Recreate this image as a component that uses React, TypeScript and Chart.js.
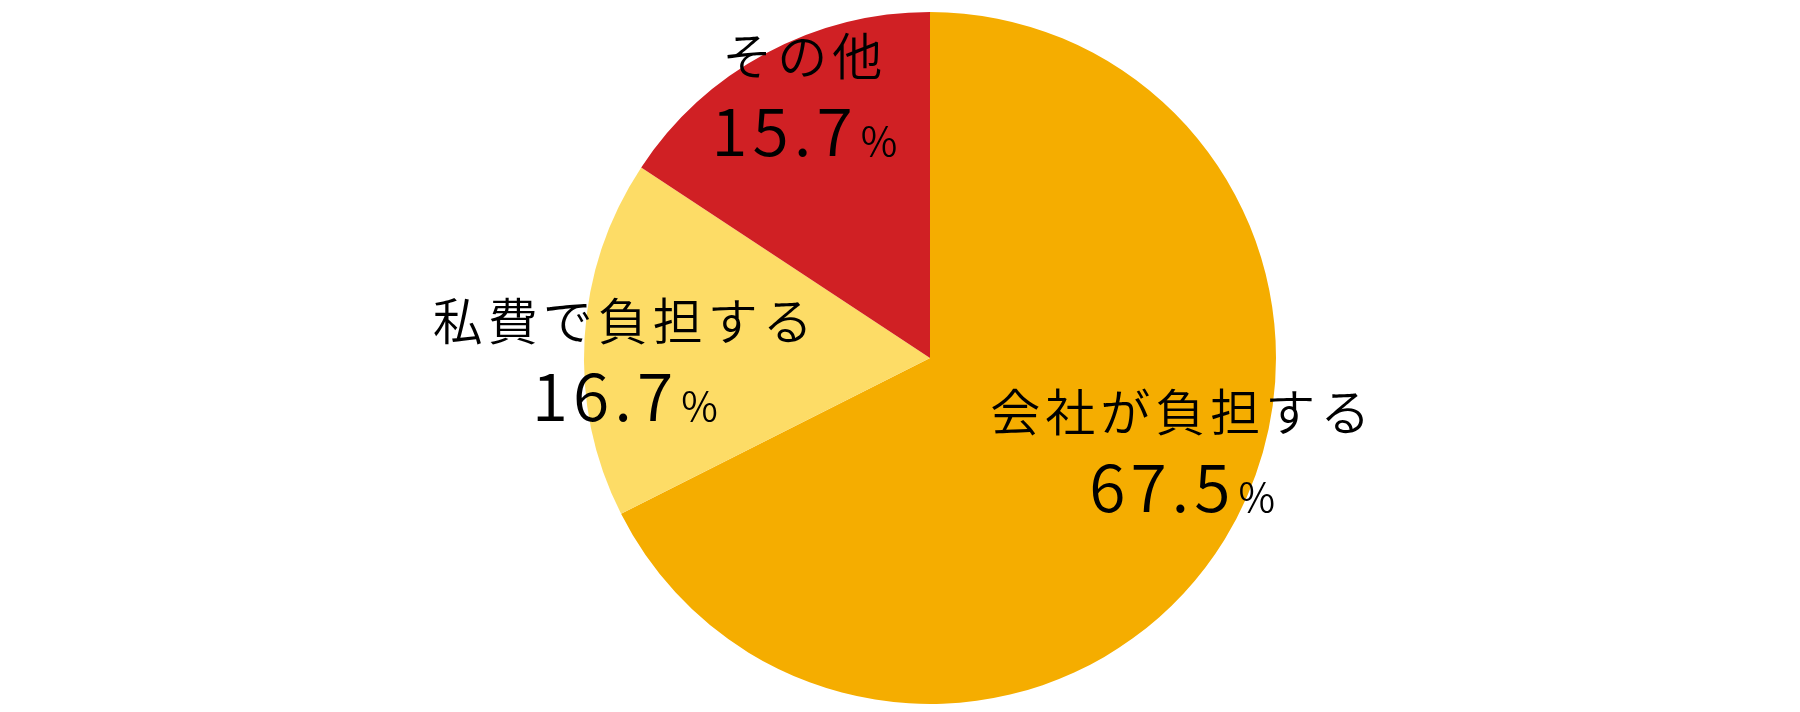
import React, { useEffect, useRef } from "react";
import { Chart, registerables } from "chart.js";

Chart.register(...registerables);

const categories = ["会社が負担する", "私費で負担する", "その他"];
const values = [67.5, 16.7, 15.7];
const valueLabels = ["67.5", "16.7", "15.7"];
const colors = ["#F5AD00", "#FDDC66", "#D02024"];
// label anchor (category text centre) relative to pie centre, in units of radius
const labelAnchors = [
  [0.723, 0.156],
  [-0.888, -0.107],
  [-0.369, -0.873],
];

const FONT = '"Noto Sans CJK JP", "Noto Sans", sans-serif';

function drawSpaced(ctx: CanvasRenderingContext2D, text: string, cx: number, y: number, spacing: number) {
  const chars = Array.from(text);
  const widths = chars.map((c) => ctx.measureText(c).width);
  const total = widths.reduce((a, b) => a + b, 0) + spacing * (chars.length - 1);
  let x = cx - total / 2;
  ctx.textAlign = "left";
  chars.forEach((c, i) => {
    ctx.fillText(c, x, y);
    x += widths[i] + spacing;
  });
}

const labelPlugin = {
  id: "pieLabels",
  afterDatasetsDraw(chart: any) {
    const ctx: CanvasRenderingContext2D = chart.ctx;
    const meta = chart.getDatasetMeta(0);
    const arc = meta.data[0];
    const { x, y, outerRadius } = arc.getProps(["x", "y", "outerRadius"], true);
    ctx.save();
    ctx.fillStyle = "#000";
    categories.forEach((cat, i) => {
      const ax = x + labelAnchors[i][0] * outerRadius;
      const ay = y + labelAnchors[i][1] * outerRadius;
      ctx.font = `350 50px ${FONT}`;
      ctx.textBaseline = "middle";
      drawSpaced(ctx, cat, ax, ay, 5);

      // number + percent
      const numStr = valueLabels[i];
      const baseY = ay + 0.29 * outerRadius;
      ctx.textBaseline = "alphabetic";
      ctx.font = `350 66px ${FONT}`;
      const sp = 5;
      const chars = Array.from(numStr);
      const w = chars.map((c) => ctx.measureText(c).width);
      const numW = w.reduce((a, b) => a + b, 0) + sp * (chars.length - 1);
      ctx.font = `350 40px ${FONT}`;
      const pW = ctx.measureText("%").width;
      const gap = 8;
      const total = numW + gap + pW;
      let sx = ax + 2 - total / 2;
      ctx.font = `350 66px ${FONT}`;
      ctx.textAlign = "left";
      chars.forEach((c, k) => {
        ctx.fillText(c, sx, baseY);
        sx += w[k] + sp;
      });
      sx += gap - sp;
      ctx.font = `350 40px ${FONT}`;
      ctx.fillText("%", sx, baseY);
    });
    ctx.restore();
  },
};

export default function App() {
  const ref = useRef<HTMLCanvasElement>(null);
  useEffect(() => {
    document.body.style.margin = "0";
    const chart = new Chart(ref.current!, {
      type: "pie",
      data: {
        labels: categories,
        datasets: [
          {
            data: values,
            backgroundColor: colors,
            borderWidth: 0,
          },
        ],
      },
      options: {
        responsive: false,
        animation: false,
        layout: { padding: { top: 12, bottom: 8, left: 60, right: 0 } },
        plugins: { legend: { display: false }, tooltip: { enabled: false } },
      },
      plugins: [labelPlugin],
    });
    return () => chart.destroy();
  }, []);
  return (
    <div style={{ width: 1800, height: 712, background: "#fff" }}>
      <canvas ref={ref} width={1800} height={712} style={{ display: "block" }} />
    </div>
  );
}
